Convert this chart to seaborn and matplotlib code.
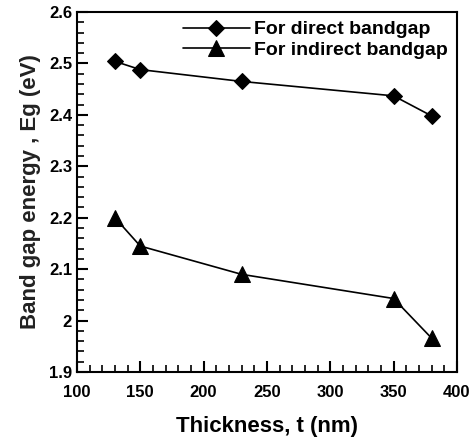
import matplotlib
matplotlib.use("Agg")
import matplotlib.pyplot as plt
import pandas as pd
import seaborn as sns
from matplotlib.ticker import MultipleLocator

thickness = [130, 150, 230, 350, 380]
direct_eg = [2.504, 2.488, 2.465, 2.437, 2.398]
indirect_eg = [2.200, 2.145, 2.090, 2.043, 1.966]

sns.set_style("ticks", {"axes.edgecolor": "black", "text.color": "black",
                        "xtick.color": "black", "ytick.color": "black",
                        "axes.labelcolor": "black"})
plt.rcParams["font.family"] = ["Liberation Sans", "DejaVu Sans"]
plt.rcParams["font.weight"] = "bold"

df = pd.DataFrame({"t": thickness, "direct": direct_eg, "indirect": indirect_eg})

fig = plt.figure(figsize=(4.72, 4.44), dpi=100)
ax = fig.add_axes([0.163, 0.162, 0.805, 0.811])

sns.lineplot(data=df, x="t", y="direct", marker="D", markersize=8, color="black",
             linewidth=1.2, markeredgecolor="black", label="For direct bandgap", ax=ax)
sns.lineplot(data=df, x="t", y="indirect", marker="^", markersize=11, color="black",
             linewidth=1.2, markeredgecolor="black", label="For indirect bandgap", ax=ax)

ax.set_xlim(100, 400)
ax.set_ylim(1.9, 2.6)
ax.xaxis.set_major_locator(MultipleLocator(50))
ax.xaxis.set_minor_locator(MultipleLocator(10))
ax.yaxis.set_minor_locator(MultipleLocator(0.02))
ax.set_yticks([1.9, 2.0, 2.1, 2.2, 2.3, 2.4, 2.5, 2.6])
ax.set_yticklabels(["1.9", "2", "2.1", "2.2", "2.3", "2.4", "2.5", "2.6"])
ax.tick_params(which="major", direction="in", length=8, width=1.5, labelsize=12)
ax.tick_params(axis="x", which="major", pad=9)
ax.tick_params(which="minor", direction="in", length=5, width=1.2)
for s in ax.spines.values():
    s.set_linewidth(1.5)

ax.set_xlabel("Thickness, t (nm)", fontsize=16, fontweight="bold", labelpad=12)
ax.set_ylabel("Band gap energy , Eg (eV)", fontsize=16, fontweight="bold",
              color="#222222", labelpad=6)

leg = ax.legend(loc="upper right", frameon=False, fontsize=14, handlelength=3.4,
                borderaxespad=0.05, labelspacing=0.15, handletextpad=0.25)

fig.canvas.draw()
for lbl in ax.get_xticklabels() + ax.get_yticklabels() + leg.get_texts():
    lbl.set_fontweight("bold")

fig.savefig("out.png", dpi=100)
